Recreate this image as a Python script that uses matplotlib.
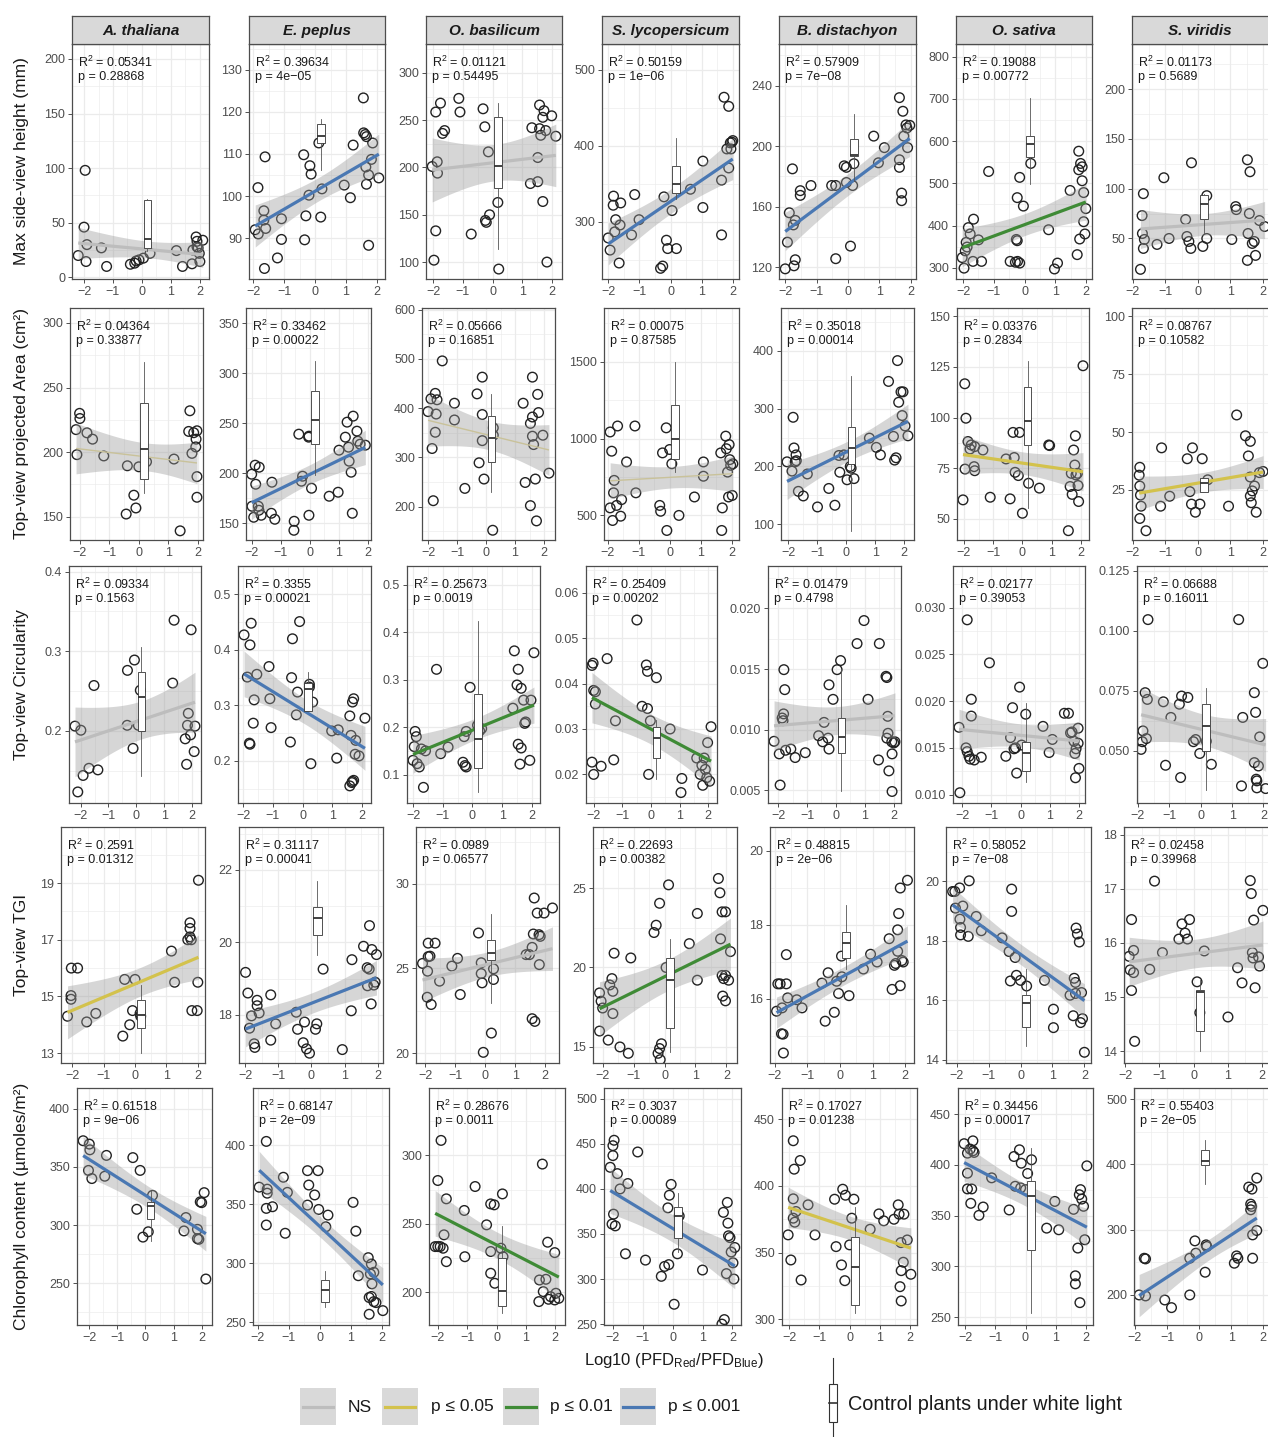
import numpy as np
import matplotlib.pyplot as plt
from matplotlib.patches import Rectangle
from matplotlib.lines import Line2D

plt.rcParams['font.family'] = ['Liberation Sans', 'DejaVu Sans']
plt.rcParams['mathtext.fontset'] = 'custom'
plt.rcParams['mathtext.rm'] = 'Liberation Sans'
plt.rcParams['mathtext.it'] = 'Liberation Sans:italic'
plt.rcParams['mathtext.bf'] = 'Liberation Sans:bold'

species = ['A. thaliana', 'E. peplus', 'O. basilicum', 'S. lycopersicum',
           'B. distachyon', 'O. sativa', 'S. viridis']
trait_labels = ['Max side-view height (mm)', 'Top-view projected Area (cm²)',
                'Top-view Circularity', 'Top-view TGI',
                'Chlorophyll content (µmoles/m²)']

# ---------------- max side-view height ----------------
hgt_ath_x = [-2.2, -1.96, -2.0, -1.9, -1.93, -1.4, -1.22, -0.4, -0.25, -0.2, -0.1, 0.05, 0.28, 1.19, 1.4, 1.73, 1.76, 1.87, 1.9, 1.94, 1.98, 2.0, 2.1, 1.9]
hgt_ath_y = [20, 98, 46, 30, 14.5, 27, 10, 12, 13, 15, 16, 17.6, 22, 24.5, 10, 12.4, 25, 37, 33, 27, 22, 14.5, 34, 28]
hgt_pep_x = [-1.94, -1.84, -1.85, -1.62, -1.66, -1.66, -1.6, -1.64, -1.22, -1.09, -1.09, -0.37, -0.17, -0.13, -0.3, -0.34, -0.2, 0.22, 0.18, 0.12, 0.94, 1.14, 1.23, 1.56, 1.57, 1.62, 1.66, 1.64, 1.66, 1.73, 1.86, 1.82, 1.73, 2.06]
hgt_pep_y = [92, 91, 102, 109.3, 96.5, 94.3, 92.3, 82.8, 85.3, 89.7, 94.6, 109.8, 107.2, 105.2, 95.3, 89.6, 100.2, 101.7, 95, 112.6, 102.6, 99.6, 112.1, 123.3, 115, 114.6, 114.1, 106.9, 102.8, 88.3, 112.6, 108.7, 105, 104.3]
hgt_bas_x = [-1.92, -1.76, -1.69, -1.62, -1.14, -1.1, -2.04, -1.87, -1.86, -1.92, -1.98, -0.72, -0.32, -0.26, -0.14, -0.24, -0.21, -0.1, 0.18, 0.21, 1.33, 1.28, 1.53, 1.59, 1.74, 1.7, 2.0, 1.59, 1.8, 1.63, 1.53, 1.7, 1.84, 2.14]
hgt_bas_y = [258.6, 268, 236, 239, 273, 258.6, 201, 206, 194, 133, 102, 129.6, 262, 243, 216.5, 144, 142, 150, 163, 92.6, 242, 183, 185, 266, 260, 253, 254.6, 241, 239, 234, 210.5, 164, 100, 233]
hgt_lyc_x = [-2.0, -1.94, -1.83, -1.84, -1.79, -1.76, -1.65, -1.6, -1.62, -1.15, -1.01, -1.25, -0.32, -0.25, -0.13, -0.09, -0.21, 0.05, 0.19, 0.64, 1.04, 1.04, 1.64, 1.72, 1.87, 1.64, 1.81, 1.92, 1.97, 1.94, 1.87, 2.0]
hgt_lyc_y = [279, 263, 334, 322, 287, 303, 246, 325, 296, 336, 303, 283, 239, 242, 276, 265, 333, 315, 265, 343, 380, 319, 283, 464, 452, 355, 396, 404, 405, 396, 371, 407]
hgt_bdi_x = [-2.0, -1.93, -1.87, -1.77, -1.74, -1.68, -1.72, -1.68, -1.52, -1.52, -1.18, -0.52, -0.39, -0.39, -0.12, -0.05, -0.05, 0.08, 0.15, 0.19, 0.82, 0.97, 1.16, 1.64, 1.75, 1.64, 1.64, 1.71, 1.71, 1.85, 1.88, 1.97, 1.78, 1.9]
hgt_bdi_y = [119, 136.6, 156, 185, 148, 151, 121, 125, 170.6, 167.5, 174, 174, 174, 125.7, 187, 186, 176, 134, 174, 188.4, 206.6, 189, 199, 232, 223, 191, 186, 169, 164, 214, 212, 213.7, 206.6, 199]
hgt_osa_x = [-2.03, -1.97, -1.93, -1.87, -1.9, -1.83, -1.77, -1.66, -1.5, -1.4, -1.68, -1.17, -0.47, -0.3, -0.23, -0.16, -0.27, -0.24, -0.24, -0.16, -0.04, 0.2, 0.78, 0.97, 1.07, 1.48, 1.71, 1.76, 1.76, 1.82, 1.87, 1.87, 1.79, 1.92, 1.92, 1.96, 1.99]
hgt_osa_y = [324, 299, 340, 349, 360, 395, 380, 415, 366, 315, 315, 528, 315, 313, 315, 311, 367, 364, 466, 514, 446, 547, 390, 297, 311, 483, 331, 532, 576, 547, 539, 506, 368, 478, 409, 380, 440]
hgt_svi_x = [-1.77, -1.68, -1.72, -1.71, -1.65, -1.68, -1.26, -1.05, -0.89, -0.38, -0.34, -0.28, -0.22, -0.2, 0.15, 0.27, 0.27, 1.04, 1.16, 1.18, 1.52, 1.6, 1.54, 1.58, 1.67, 1.73, 1.77, 1.52, 1.89, 2.05]
hgt_svi_y = [19, 95, 73, 55, 49, 40, 44, 111, 50, 69, 52, 47, 40, 126, 42, 93, 50, 49, 82, 79, 129, 117, 55, 75, 45, 47, 33, 28, 68, 62]
# control boxes: whisker low, q1, median, q3, whisker high
hgt_box = [[24, 27, 35, 71, 72], [106.1, 112.5, 114.3, 117, 118.2], [113.7, 178, 202, 253.5, 268],
           [330, 338, 350, 373, 410], [177, 193.4, 194.3, 204.8, 221], [499, 562, 594, 612, 702],
           [55, 70, 85, 94, 95]]
hgt_r2 = [0.05341, 0.39634, 0.01121, 0.50159, 0.57909, 0.19088, 0.01173]
hgt_p = [0.28868, 4e-05, 0.54495, 1e-06, 7e-08, 0.00772, 0.5689]
hgt_sig = ['ns', 'p001', 'ns', 'p001', 'p001', 'p01', 'ns']

# ---------------- top-view projected area ----------------
area_ath_x = [-2.13, -2.01, -2.0, -2.1, -1.76, -1.57, -1.19, -0.39, -0.17, -0.1, -0.43, 0.0, 0.26, 1.19, 1.4, 1.73, 1.69, 1.8, 1.86, 1.93, 1.97, 1.94, 1.97, 1.97]
area_ath_y = [217.4, 230, 226, 198, 214.9, 210, 197, 189.4, 166.6, 156.7, 152, 188.6, 192.5, 194.6, 139, 232, 216, 199, 215, 204, 216.5, 210, 181, 165]
area_pep_x = [-2.01, -2.0, -1.94, -1.89, -1.87, -1.75, -1.78, -1.76, -1.68, -1.31, -1.33, -1.21, -0.54, -0.55, -0.38, -0.29, -0.25, -0.03, -0.04, -0.03, 0.06, 0.67, 0.98, 1.01, 1.23, 1.29, 1.5, 1.34, 1.36, 1.43, 1.47, 1.63, 1.74, 1.66, 1.92]
area_pep_y = [199, 167, 156, 208, 189, 206, 167, 163, 158, 191, 160, 154, 152, 143, 239, 192, 197, 237, 236, 158, 185, 177, 181, 223, 236, 251, 257, 226, 212, 201, 160, 242, 229, 232, 228]
area_bas_x = [-2.0, -1.9, -1.75, -1.69, -1.72, -1.75, -1.86, -1.82, -1.51, -1.09, -1.09, -0.73, -0.31, -0.13, -0.13, -0.13, -0.24, -0.07, 0.25, 0.25, 0.23, 1.28, 1.35, 1.53, 1.6, 1.6, 1.6, 1.7, 1.53, 1.74, 1.78, 1.81, 1.64, 1.96, 2.17]
area_bas_y = [393, 419, 430, 417, 388, 351, 318, 212, 496, 410, 376, 237, 429, 463, 387, 334, 289, 256, 360, 345, 152, 410, 249, 369, 463, 382, 343, 256, 202, 171, 428, 391, 326, 345, 268]
area_lyc_x = [-1.92, -1.87, -1.79, -1.92, -1.84, -1.81, -1.71, -1.68, -1.58, -1.55, -1.39, -1.12, -1.09, -0.32, -0.29, -0.09, -0.23, -0.11, 0.0, 0.07, 0.3, 0.8, 1.09, 1.09, 1.68, 1.7, 1.65, 1.81, 1.83, 1.87, 1.9, 1.92, 1.94, 1.97, 2.04, 2.02]
area_lyc_y = [1043, 918, 728, 549, 467, 647, 565, 1082, 495, 603, 848, 1082, 647, 565, 527, 402, 907, 1070, 929, 836, 500, 620, 848, 755, 402, 549, 907, 1016, 934, 782, 620, 961, 863, 826, 836, 630]
area_bdi_x = [-2.04, -1.87, -1.83, -1.8, -1.73, -1.72, -1.76, -1.65, -1.48, -1.34, -0.99, -0.6, -0.39, -0.25, -0.08, -0.22, 0.03, 0.14, 0.17, 0.27, 0.8, 1.04, 1.18, 1.46, 1.77, 1.81, 1.89, 1.96, 1.93, 1.63, 1.67, 1.72, 2.03, 2.13]
area_bdi_y = [208, 192, 285, 232, 220, 210, 208, 157, 149, 187, 130, 162, 133, 219, 220, 190, 177, 200, 197, 179, 249, 233, 220, 347, 383, 311, 329, 329, 288, 252, 211, 215, 270, 253]
area_osa_x = [-1.97, -1.93, -1.86, -1.79, -1.75, -1.63, -1.65, -1.63, -1.96, -2.03, -1.35, -1.1, -0.56, -0.42, -0.32, -0.28, -0.25, -0.14, -0.1, 0.0, 0.21, 0.58, 0.9, 0.93, 1.57, 1.63, 1.67, 1.7, 1.75, 1.81, 1.79, 1.83, 1.9, 1.92, 1.88, 2.07]
area_osa_y = [116.7, 99.7, 88.2, 84.5, 86.5, 85.7, 75.8, 73.8, 74.6, 59.4, 84, 60.7, 79.6, 59.9, 92.7, 80.3, 73, 71.4, 92.7, 52.8, 67.6, 65.2, 86.5, 86.2, 44.2, 66, 72.5, 62.1, 84, 91, 76.6, 71.7, 66.5, 58.6, 72.5, 125.6]
area_svi_x = [-1.79, -1.81, -1.79, -1.77, -1.75, -1.79, -1.6, -1.15, -1.12, -0.87, -0.33, -0.25, -0.2, -0.08, -0.17, 0.13, 0.06, 0.3, 0.94, 1.19, 1.46, 1.61, 1.55, 1.61, 1.61, 1.67, 1.74, 1.64, 1.79, 1.89, 2.0]
area_svi_y = [34.8, 31.4, 26.7, 22.8, 18, 12.7, 7.4, 18, 43.2, 22.3, 38.5, 24.3, 18.9, 15.4, 43.2, 38.5, 18.9, 29.4, 18, 57.4, 48.4, 46, 39.7, 30.6, 22.4, 24.6, 26.7, 19.5, 15.4, 32.5, 33]
area_box = [[168, 179.5, 202.6, 238, 270], [198, 229, 253, 282, 312], [230, 291, 339, 385, 429],
            [782, 864, 1000, 1218, 1500], [89, 205, 232, 268, 357], [55.3, 86.5, 98.5, 115.3, 127.8],
            [24, 24, 27.9, 30.3, 30.3]]
area_r2 = [0.04364, 0.33462, 0.05666, 0.00075, 0.35018, 0.03376, 0.08767]
area_p = [0.33877, 0.00022, 0.16851, 0.87585, 0.00014, 0.2834, 0.10582]
area_sig = ['ns_thin', 'p001', 'ns_thin', 'ns_thin', 'p001', 'p05', 'p05']

# ---------------- top-view circularity ----------------
circ_ath_x = [-2.2, -1.99, -2.1, -1.91, -1.7, -1.38, -1.52, -0.32, -0.07, -0.33, -0.12, 0.14, 0.07, 1.3, 1.35, 1.96, 1.75, 1.8, 1.86, 1.83, 1.94, 2.1, 2.07]
circ_ath_y = [0.206, 0.2008, 0.1233, 0.144, 0.153, 0.151, 0.257, 0.276, 0.289, 0.207, 0.178, 0.251, 0.207, 0.26, 0.339, 0.327, 0.19, 0.158, 0.222, 0.207, 0.195, 0.206, 0.174]
circ_pep_x = [-1.97, -1.77, -1.73, -1.86, -1.54, -1.63, -1.66, -1.79, -1.77, -1.13, -1.1, -1.06, -0.34, -0.37, -0.41, -0.1, -0.17, -0.21, 0.23, 0.23, 0.34, 0.28, 0.98, 1.2, 1.15, 1.59, 1.63, 1.72, 1.68, 1.77, 1.9, 1.79, 2.1, 1.59, 1.68, 1.72, 1.66]
circ_pep_y = [0.427, 0.409, 0.448, 0.351, 0.356, 0.31, 0.268, 0.232, 0.23, 0.37, 0.312, 0.26, 0.42, 0.35, 0.234, 0.451, 0.324, 0.283, 0.338, 0.333, 0.306, 0.195, 0.254, 0.256, 0.205, 0.281, 0.246, 0.312, 0.306, 0.212, 0.209, 0.237, 0.277, 0.155, 0.163, 0.165, 0.161]
circ_bas_x = [-1.93, -1.89, -1.96, -2.0, -1.86, -1.79, -1.72, -1.58, -1.65, -1.21, -1.07, -0.82, -0.32, -0.25, -0.21, -0.28, -0.21, -0.08, 0.17, 0.24, 0.31, 1.41, 1.36, 1.54, 1.5, 1.64, 1.72, 1.54, 1.64, 1.6, 1.79, 1.76, 1.97, 1.93, 2.07]
circ_bas_y = [0.191, 0.18, 0.159, 0.13, 0.123, 0.116, 0.154, 0.15, 0.073, 0.322, 0.144, 0.158, 0.126, 0.119, 0.116, 0.18, 0.191, 0.284, 0.204, 0.192, 0.197, 0.361, 0.24, 0.322, 0.289, 0.282, 0.257, 0.164, 0.156, 0.122, 0.211, 0.208, 0.257, 0.13, 0.357]
circ_lyc_x = [-2.06, -2.02, -2.0, -1.94, -1.94, -2.06, -2.0, -1.74, -1.53, -1.3, -1.24, -0.49, -0.31, -0.12, -0.16, -0.12, 0.19, -0.02, -0.08, 0.67, 1.08, 1.05, 1.6, 1.72, 1.78, 1.86, 1.9, 1.95, 2.05, 2.1, 1.81, 1.98]
circ_lyc_y = [0.044, 0.0445, 0.0385, 0.0382, 0.0355, 0.0227, 0.02, 0.0218, 0.0455, 0.0232, 0.0318, 0.054, 0.035, 0.0345, 0.0441, 0.0427, 0.0413, 0.0318, 0.02, 0.03, 0.0191, 0.016, 0.0236, 0.02, 0.022, 0.0236, 0.0211, 0.0193, 0.0185, 0.0305, 0.0176, 0.027]
circ_bdi_x = [-2.14, -1.96, -1.93, -1.86, -1.83, -1.81, -1.8, -1.77, -1.74, -1.56, -1.41, -1.06, -0.6, -0.46, -0.41, -0.24, -0.27, -0.24, -0.1, 0.04, 0.16, 0.73, 0.97, 1.11, 1.5, 1.47, 1.73, 1.76, 1.79, 1.8, 1.76, 1.83, 1.94, 2.0, 1.93, 1.94, 2.04]
circ_bdi_y = [0.00904, 0.008, 0.00543, 0.01096, 0.01074, 0.0113, 0.01495, 0.0133, 0.0083, 0.0084, 0.0077, 0.0081, 0.0095, 0.009, 0.0106, 0.0084, 0.0093, 0.0137, 0.0125, 0.01495, 0.0157, 0.0171, 0.019, 0.0125, 0.0171, 0.0075, 0.0144, 0.0143, 0.0111, 0.0097, 0.0093, 0.0066, 0.008, 0.0089, 0.009, 0.0049, 0.009]
circ_osa_x = [-2.08, -2.11, -1.83, -1.69, -1.69, -1.87, -1.83, -1.77, -1.73, -1.59, -1.35, -1.07, -0.51, -0.35, -0.28, -0.23, -0.18, -0.14, -0.04, 0.03, 0.17, 0.76, 1.08, 0.97, 1.49, 1.63, 1.7, 1.75, 1.82, 1.85, 1.89, 1.96, 1.96, 1.99, 1.87]
circ_osa_y = [0.0102, 0.0172, 0.0287, 0.0202, 0.0184, 0.015, 0.0146, 0.0141, 0.0138, 0.0137, 0.014, 0.0241, 0.0141, 0.0161, 0.0193, 0.0149, 0.015, 0.0123, 0.0215, 0.0153, 0.0186, 0.0173, 0.0159, 0.0145, 0.0187, 0.0187, 0.0166, 0.0167, 0.0157, 0.0144, 0.0149, 0.0171, 0.0155, 0.0128, 0.0118]
circ_svi_x = [-1.9, -1.84, -1.86, -1.73, -1.77, -1.7, -1.68, -1.19, -0.95, -1.12, -0.64, -0.68, -0.61, -0.41, -0.23, -0.16, -0.03, 0.34, 0.18, 1.21, 1.34, 1.3, 1.71, 1.75, 1.98, 1.71, 1.84, 1.88, 1.77, 1.79, 1.79, 2.07]
circ_svi_y = [0.0506, 0.0583, 0.0538, 0.0551, 0.0742, 0.0714, 0.1046, 0.0704, 0.0639, 0.044, 0.0389, 0.0694, 0.0728, 0.0722, 0.0538, 0.0547, 0.0489, 0.0444, 0.054, 0.1046, 0.0639, 0.0354, 0.0742, 0.066, 0.0864, 0.0451, 0.0437, 0.0558, 0.0382, 0.0375, 0.0346, 0.0343]
circ_box = [[0.143, 0.2, 0.243, 0.274, 0.305], [0.29, 0.29, 0.33, 0.341, 0.36], [0.063, 0.113, 0.175, 0.271, 0.424],
            [0.0189, 0.0236, 0.028, 0.0305, 0.032], [0.0049, 0.0081, 0.0094, 0.011, 0.015],
            [0.0114, 0.0125, 0.0145, 0.0156, 0.0198], [0.0336, 0.05, 0.0603, 0.0693, 0.0762]]
circ_r2 = [0.09334, 0.3355, 0.25673, 0.25409, 0.01479, 0.02177, 0.06688]
circ_p = [0.1563, 0.00021, 0.0019, 0.00202, 0.4798, 0.39053, 0.16011]
circ_sig = ['ns', 'p001', 'p01', 'p01', 'ns', 'ns', 'ns']

# ---------------- top-view TGI ----------------
tgi_ath_x = [-2.15, -2.04, -2.04, -2.03, -1.83, -1.54, -1.25, -0.33, -0.39, -0.17, -0.08, 0.0, 0.16, 0.18, 1.16, 1.26, 1.75, 1.75, 1.75, 1.68, 1.79, 1.81, 1.98, 2.02, 2.0]
tgi_ath_y = [14.3, 15.03, 14.9, 16.0, 16.0, 14.1, 14.4, 15.6, 13.6, 14.0, 14.5, 15.6, 14.4, 14.3, 16.6, 15.5, 17.6, 17.4, 17.1, 17.0, 17.0, 14.5, 14.5, 19.1, 15.5]
tgi_pep_x = [-1.99, -1.92, -1.87, -1.81, -1.73, -1.71, -1.64, -1.64, -1.58, -1.23, -1.23, -1.08, -0.46, -0.42, -0.21, -0.25, -0.15, -0.06, 0.16, 0.12, 0.35, 0.93, 1.22, 1.2, 1.57, 1.68, 1.69, 1.74, 1.75, 1.82, 1.8, 1.88, 1.96, 1.92]
tgi_pep_y = [19.17, 18.6, 17.63, 17.97, 17.2, 17.1, 18.4, 18.25, 18.05, 18.55, 17.3, 17.75, 18.07, 17.6, 17.8, 17.23, 17.06, 16.94, 17.75, 17.6, 19.26, 17.04, 19.52, 18.11, 19.89, 19.3, 18.8, 19.26, 20.46, 19.8, 18.3, 18.82, 19.66, 18.9]
tgi_bas_x = [-2.1, -1.93, -1.94, -1.81, -1.91, -1.85, -1.91, -1.68, -1.53, -1.12, -0.93, -0.84, -0.23, -0.14, -0.14, -0.11, -0.07, 0.2, 0.27, 0.27, 1.36, 1.47, 1.56, 1.63, 1.6, 1.56, 1.65, 1.73, 1.79, 1.83, 1.8, 1.96, 2.24]
tgi_bas_y = [25.3, 24.84, 23.3, 22.87, 25.7, 25.73, 26.5, 26.5, 24.25, 25.14, 25.6, 23.46, 27.1, 25.34, 24.7, 24.15, 20.04, 21.18, 24.98, 24.35, 25.82, 25.82, 26.25, 29.17, 27.04, 22.03, 21.87, 28.28, 27.0, 26.9, 25.23, 28.28, 28.58]
tgi_lyc_x = [-2.1, -2.05, -2.0, -2.1, -1.82, -1.77, -1.7, -1.67, -1.67, -1.63, -1.44, -1.17, -1.09, -0.21, -0.16, -0.1, -0.14, -0.34, -0.27, -0.16, 0.13, 0.05, 0.8, 1.06, 1.06, 1.74, 1.79, 1.86, 1.97, 1.81, 1.86, 1.91, 1.97, 1.97, 1.88, 2.13, 2.07]
tgi_lyc_y = [18.4, 17.88, 17.45, 16.0, 15.43, 18.9, 19.3, 18.5, 17.1, 20.9, 15.0, 14.6, 20.6, 14.6, 14.9, 15.2, 14.2, 22.2, 22.66, 24.04, 25.2, 20.0, 21.5, 23.4, 19.2, 25.6, 24.7, 23.5, 23.5, 21.8, 19.5, 19.3, 19.5, 17.9, 18.2, 21.0, 19.2]
tgi_bdi_x = [-1.94, -1.9, -1.83, -1.79, -1.74, -1.73, -1.77, -1.64, -1.64, -1.6, -1.32, -1.16, -0.55, -0.36, -0.45, -0.17, -0.1, -0.04, 0.06, 0.05, 0.28, 0.72, 0.94, 1.14, 1.51, 1.6, 1.71, 1.67, 1.77, 1.8, 1.77, 1.85, 1.85, 1.9, 1.94, 2.07]
tgi_bdi_y = [15.66, 16.4, 16.4, 15.05, 15.04, 14.53, 15.75, 16.4, 17.19, 16.02, 15.97, 15.75, 16.42, 16.7, 15.39, 15.63, 16.47, 16.14, 16.59, 17.15, 16.08, 16.8, 17.2, 16.99, 17.62, 16.25, 16.95, 16.9, 17.28, 18.3, 17.86, 18.99, 16.35, 17.03, 16.99, 19.2]
tgi_osa_x = [-2.13, -2.06, -2.04, -1.91, -1.9, -1.88, -1.88, -1.81, -1.64, -1.61, -1.39, -1.23, -0.58, -0.36, -0.17, -0.28, -0.28, -0.32, -0.13, 0.0, 0.19, 0.75, 1.03, 1.03, 1.55, 1.68, 1.72, 1.74, 1.78, 1.84, 1.65, 1.72, 1.88, 1.94, 2.0, 1.91]
tgi_osa_y = [19.66, 19.66, 19.1, 19.78, 18.73, 18.45, 18.2, 19.17, 18.15, 20.02, 18.82, 18.34, 18.1, 17.64, 17.44, 19.74, 18.99, 16.65, 16.84, 16.67, 16.48, 16.67, 15.7, 15.08, 16.17, 16.74, 16.6, 18.43, 18.23, 17.96, 15.48, 16.23, 15.25, 15.38, 14.25, 16.26]
tgi_svi_x = [-1.88, -1.85, -1.75, -1.81, -1.81, -1.75, -1.72, -1.28, -1.14, -0.91, -0.43, -0.34, -0.25, -0.18, -0.12, 0.1, 0.18, 0.31, 1.0, 1.28, 1.41, 1.65, 1.68, 1.75, 1.71, 1.73, 1.79, 1.89, 1.92, 2.02]
tgi_svi_y = [15.75, 15.5, 15.45, 15.12, 16.43, 15.86, 14.18, 15.51, 17.14, 15.82, 16.07, 16.35, 16.18, 16.07, 16.43, 15.28, 14.71, 15.85, 14.63, 15.54, 15.26, 17.15, 16.91, 16.42, 15.82, 15.72, 15.17, 15.74, 15.57, 16.6]
tgi_box = [[13.0, 13.9, 14.35, 14.86, 15.4], [19.66, 20.21, 20.67, 20.97, 21.7], [22.97, 25.5, 25.93, 26.67, 28.24],
           [14.7, 16.2, 19.2, 20.6, 21.8], [16.8, 17.1, 17.5, 17.79, 18.54], [14.45, 15.1, 15.9, 16.18, 17.04],
           [14.0, 14.38, 15.09, 15.12, 15.31]]
tgi_r2 = [0.2591, 0.31117, 0.0989, 0.22693, 0.48815, 0.58052, 0.02458]
tgi_p = [0.01312, 0.00041, 0.06577, 0.00382, 2e-06, 7e-08, 0.39968]
tgi_sig = ['p05', 'p001', 'ns', 'p01', 'p001', 'p001', 'ns']

# ---------------- chlorophyll content ----------------
chl_ath_x = [-2.22, -2.0, -1.98, -2.03, -1.91, -1.39, -1.45, -0.45, -0.19, -0.31, -0.09, 0.1, 0.25, 1.44, 1.37, 1.85, 1.9, 1.85, 1.95, 2.0, 2.09, 2.15]
chl_ath_y = [372.5, 369.6, 364.7, 347, 340, 359.9, 342, 358, 347, 313.6, 289.7, 294.3, 325.6, 306.5, 295, 296.4, 287.8, 288.4, 320, 319.3, 327.9, 253.7]
chl_pep_x = [-1.95, -1.72, -1.69, -1.69, -1.72, -1.52, -1.72, -1.17, -1.04, -1.11, -0.39, -0.05, -0.35, -0.16, -0.39, -0.03, 0.27, 0.2, 1.08, 1.17, 1.25, 1.57, 1.67, 1.64, 1.75, 1.6, 1.67, 1.69, 1.75, 1.82, 1.6, 2.04]
chl_pep_y = [364.6, 403.4, 362.9, 359.5, 346.6, 348, 332.5, 373, 360.2, 325.5, 378.6, 378.6, 366.4, 358, 349.4, 345.7, 340.9, 331, 351.7, 327.3, 289.5, 304.8, 299.4, 291, 292.4, 271, 271.9, 282.6, 267.5, 266.7, 256.8, 259.9]
chl_bas_x = [-2.0, -2.09, -2.0, -1.92, -1.82, -1.89, -1.71, -1.79, -1.71, -1.1, -1.08, -0.73, -0.34, -0.2, -0.08, -0.2, -0.2, -0.06, 0.2, 0.15, 0.22, 1.56, 1.46, 1.68, 1.74, 1.59, 1.77, 1.98, 2.02, 1.98, 2.12, 1.44, 1.84]
chl_bas_y = [281.7, 233.4, 233.4, 233.4, 232.2, 311, 268.3, 242, 222.4, 259.8, 226, 277.3, 249.3, 264.6, 263.9, 229.8, 213.9, 206.6, 271.9, 232.2, 226, 293.7, 209, 209.5, 236.6, 200.5, 194.9, 229, 199.3, 194.4, 195.6, 193.2, 196.8]
chl_lyc_x = [-2.09, -2.0, -1.96, -2.0, -1.85, -1.76, -1.98, -2.03, -1.92, -1.58, -1.5, -1.17, -0.91, -0.38, -0.27, -0.13, -0.16, -0.11, -0.05, 0.05, 0.16, 0.22, 1.0, 1.65, 1.73, 1.7, 1.83, 1.85, 1.87, 1.92, 1.96, 1.8, 2.02, 2.05, 2.08]
chl_lyc_y = [424, 437, 454, 448, 417, 400, 372, 361, 359, 328, 406, 441, 321, 303, 314, 316, 379, 393, 405, 272, 328, 370, 310, 250, 255, 374, 385, 362, 348, 346, 330, 306, 318, 300, 335]
chl_bdi_x = [-2.04, -1.95, -1.87, -1.84, -1.64, -1.87, -1.87, -1.82, -1.78, -1.61, -1.38, -1.15, -0.5, -0.45, -0.27, -0.23, -0.14, -0.16, 0.0, 0.07, 0.14, 0.68, 0.97, 1.13, 1.47, 1.61, 1.64, 1.7, 1.8, 1.91, 1.78, 1.71, 1.67, 1.71, 2.03]
chl_bdi_y = [363.3, 344.5, 433.8, 412.5, 419, 390.3, 375.8, 372.8, 380.8, 329.5, 385.8, 363.3, 390, 354.5, 340.8, 397.5, 393, 329, 355.8, 375.8, 390, 367.5, 379, 373.8, 375, 385.8, 378.8, 357.5, 378.8, 359.5, 342.8, 336.5, 324.5, 313.8, 333.8]
chl_osa_x = [-2.03, -1.92, -1.83, -1.74, -1.74, -1.7, -1.92, -1.92, -1.78, -1.81, -1.54, -1.4, -1.12, -0.54, -0.38, -0.2, -0.14, -0.34, -0.16, 0.0, 0.07, 0.2, 0.7, 0.97, 1.1, 1.59, 1.65, 1.65, 1.73, 1.78, 1.82, 1.86, 1.92, 1.96, 2.03, 1.8]
chl_osa_y = [420.8, 411.5, 415.5, 423.6, 413.8, 412.2, 391.8, 376.3, 376.3, 362.1, 350.3, 358.5, 387.2, 355.6, 408.2, 414.8, 401.6, 378.9, 377.3, 375.6, 391.5, 405, 337.7, 364, 336.1, 356.2, 290.8, 282.9, 318.1, 370.6, 375.6, 366.3, 359.2, 326.3, 399, 264.4]
chl_svi_x = [-1.87, -1.71, -1.67, -1.67, -1.07, -0.86, -0.29, -0.29, -0.13, -0.1, 0.22, 0.24, 0.19, 1.1, 1.21, 1.17, 1.55, 1.65, 1.61, 1.64, 1.61, 1.8, 1.67, 1.67, 1.8]
chl_svi_y = [200, 256.2, 255.2, 198.5, 192.3, 180.6, 200, 256.2, 282.8, 263.9, 276.7, 274.2, 234.8, 248.6, 256.2, 259.8, 365.2, 362.1, 339.1, 335.5, 330.4, 379, 256.2, 292, 298.7]
chl_box = [[286.4, 305.3, 316.5, 320.2, 330], [262.7, 267.5, 277.8, 285.9, 293.8], [184.6, 190, 201, 224.9, 248.8],
           [330, 345, 370, 380, 396], [305, 310.8, 339.5, 361.5, 384.5], [254, 316.4, 369, 383.7, 416.5],
           [370.5, 398.5, 405.2, 422, 437.4]]
chl_r2 = [0.61518, 0.68147, 0.28676, 0.3037, 0.17027, 0.34456, 0.55403]
chl_p = [9e-06, 2e-09, 0.0011, 0.00089, 0.01238, 0.00017, 2e-05]
chl_sig = ['p001', 'p001', 'p01', 'p001', 'p05', 'p001', 'p001']

rows = [
    ([(hgt_ath_x, hgt_ath_y), (hgt_pep_x, hgt_pep_y), (hgt_bas_x, hgt_bas_y), (hgt_lyc_x, hgt_lyc_y),
      (hgt_bdi_x, hgt_bdi_y), (hgt_osa_x, hgt_osa_y), (hgt_svi_x, hgt_svi_y)],
     hgt_box, hgt_r2, hgt_p, hgt_sig),
    ([(area_ath_x, area_ath_y), (area_pep_x, area_pep_y), (area_bas_x, area_bas_y), (area_lyc_x, area_lyc_y),
      (area_bdi_x, area_bdi_y), (area_osa_x, area_osa_y), (area_svi_x, area_svi_y)],
     area_box, area_r2, area_p, area_sig),
    ([(circ_ath_x, circ_ath_y), (circ_pep_x, circ_pep_y), (circ_bas_x, circ_bas_y), (circ_lyc_x, circ_lyc_y),
      (circ_bdi_x, circ_bdi_y), (circ_osa_x, circ_osa_y), (circ_svi_x, circ_svi_y)],
     circ_box, circ_r2, circ_p, circ_sig),
    ([(tgi_ath_x, tgi_ath_y), (tgi_pep_x, tgi_pep_y), (tgi_bas_x, tgi_bas_y), (tgi_lyc_x, tgi_lyc_y),
      (tgi_bdi_x, tgi_bdi_y), (tgi_osa_x, tgi_osa_y), (tgi_svi_x, tgi_svi_y)],
     tgi_box, tgi_r2, tgi_p, tgi_sig),
    ([(chl_ath_x, chl_ath_y), (chl_pep_x, chl_pep_y), (chl_bas_x, chl_bas_y), (chl_lyc_x, chl_lyc_y),
      (chl_bdi_x, chl_bdi_y), (chl_osa_x, chl_osa_y), (chl_svi_x, chl_svi_y)],
     chl_box, chl_r2, chl_p, chl_sig),
]

# y axis ranges and ticks per panel
ylims = [
    [(-1.5, 213.7), (80.3, 136.1), (82.1, 330.5), (225, 534), (112.3, 267.4), (273.3, 829.9), (9.3, 245.3)],
    [(131.9, 311.6), (133.3, 365), (132.2, 603.4), (340, 1850), (72.9, 473.9), (39.6, 154.1), (3.4, 103.6)],
    [(0.1094, 0.4071), (0.1242, 0.5511), (0.040, 0.540), (0.0137, 0.0659), (0.00395, 0.0235), (0.0091, 0.03446), (0.0283, 0.1269)],
    [(12.65, 20.98), (16.67, 23.18), (19.41, 33.37), (13.99, 28.84), (14.26, 20.64), (13.89, 21.83), (13.78, 18.14)],
    [(214.2, 417.8), (247.7, 448.7), (176.1, 349.3), (249, 512), (295.8, 473.3), (242.4, 475.6), (154, 516.9)],
]
yticks = [
    [[0, 50, 100, 150, 200], [90, 100, 110, 120, 130], [100, 150, 200, 250, 300], [300, 400, 500],
     [120, 160, 200, 240], [300, 400, 500, 600, 700, 800], [50, 100, 150, 200]],
    [[150, 200, 250, 300], [150, 200, 250, 300, 350], [200, 300, 400, 500, 600], [500, 1000, 1500],
     [100, 200, 300, 400], [50, 75, 100, 125, 150], [25, 50, 75, 100]],
    [[0.2, 0.3, 0.4], [0.2, 0.3, 0.4, 0.5], [0.1, 0.2, 0.3, 0.4, 0.5], [0.02, 0.03, 0.04, 0.05, 0.06],
     [0.005, 0.010, 0.015, 0.020], [0.010, 0.015, 0.020, 0.025, 0.030], [0.050, 0.075, 0.100, 0.125]],
    [[13, 15, 17, 19], [18, 20, 22], [20, 25, 30], [15, 20, 25], [16, 18, 20], [14, 16, 18, 20], [14, 15, 16, 17, 18]],
    [[250, 300, 350, 400], [250, 300, 350, 400], [200, 250, 300], [250, 300, 350, 400, 450, 500],
     [300, 350, 400, 450], [250, 300, 350, 400, 450], [200, 300, 400, 500]],
]

# panel boxes in pixels
W, H = 1268, 1437
row_top = [44, 308, 566, 827, 1088]
row_bot = [279, 540, 803, 1063, 1325]
row_left = [[72, 249, 426, 602, 779, 956, 1132],
            [70, 246, 422, 604, 781, 957, 1132],
            [69, 238, 407, 586, 768, 953, 1137],
            [61, 239, 416, 593, 770, 946, 1124],
            [77, 253, 429, 604, 782, 958, 1134]]
row_right = [[209, 385, 562, 739, 916, 1092, 1276],
             [203, 371, 555, 739, 914, 1089, 1276],
             [201, 371, 540, 717, 901, 1085, 1276],
             [205, 383, 559, 737, 914, 1091, 1276],
             [212, 389, 565, 741, 917, 1093, 1276]]
# the rightmost column runs past the figure edge
last_xlim = (-2.03, 2.4)

line_col = {'ns': '#BDBDBD', 'ns_thin': '#C9C29A', 'p05': '#D3C24C', 'p01': '#3F8B36', 'p001': '#4A78B3'}
line_w = {'ns': 2.3, 'ns_thin': 1.0, 'p05': 2.3, 'p01': 2.3, 'p001': 2.3}
box_pos = 0.18
grid_col = '#EBEBEB'
edge_col = '#4D4D4D'


def px_axes(fig, l, t, r, b):
    return fig.add_axes([l / W, 1 - b / H, (r - l) / W, (b - t) / H])


def tick_text(ticks):
    dec = 0
    for v in ticks:
        s = ('%.6f' % v).rstrip('0').rstrip('.')
        if '.' in s:
            dec = max(dec, len(s.split('.')[1]))
    return ['%.*f' % (dec, v) for v in ticks]


def lm_band(x, y, xs):
    slope, icpt = np.polyfit(x, y, 1)
    n = len(x)
    res = y - (icpt + slope * x)
    s = np.sqrt(np.sum(res ** 2) / (n - 2))
    sxx = np.sum((x - x.mean()) ** 2)
    se = s * np.sqrt(1 / n + (xs - x.mean()) ** 2 / sxx)
    tq = 1.96 + 2.5 / (n - 2)
    fit = icpt + slope * xs
    return fit, fit - tq * se, fit + tq * se


def fmt_num(v):
    return str(v).replace('-', '\u2212')


fig = plt.figure(figsize=(W / 100, H / 100), dpi=100)

for r, (pts, boxes, r2s, ps, sigs) in enumerate(rows):
    for c in range(7):
        l, rr = row_left[r][c], row_right[r][c]
        t, b = row_top[r], row_bot[r]
        ax = px_axes(fig, l, t, rr, b)
        x = np.array(pts[c][0], dtype=float)
        y = np.array(pts[c][1], dtype=float)

        ax.scatter(x, y, s=48, facecolors='none', edgecolors='#222222', linewidths=1.0, zorder=2)

        xs = np.linspace(x.min(), x.max(), 80)
        fit, lo, hi = lm_band(x, y, xs)
        ax.fill_between(xs, lo, hi, color='#999999', alpha=0.4, lw=0, zorder=3)
        ax.plot(xs, fit, color=line_col[sigs[c]], lw=line_w[sigs[c]], zorder=4, solid_capstyle='butt')

        bs = boxes[c]
        ax.bxp([dict(whislo=bs[0], q1=bs[1], med=bs[2], q3=bs[3], whishi=bs[4])],
               positions=[box_pos], widths=0.25, showfliers=False, showcaps=False,
               patch_artist=True, manage_ticks=False, zorder=5,
               boxprops=dict(facecolor='white', edgecolor='#333333', lw=0.6),
               whiskerprops=dict(color='#555555', lw=0.6),
               medianprops=dict(color='#333333', lw=1.3))

        if c == 6:
            xlo, xhi = last_xlim
        else:
            span = x.max() - x.min()
            xlo, xhi = x.min() - 0.05 * span, x.max() + 0.05 * span
        yt = yticks[r][c]
        step = yt[1] - yt[0]
        ax.set_xticks([-2, -1, 0, 1, 2])
        ax.set_yticks(yt)
        ax.set_yticklabels(tick_text(yt))
        ax.set_xticks([-2.5, -1.5, -0.5, 0.5, 1.5, 2.5], minor=True)
        ax.set_yticks(np.arange(yt[0] - 1.5 * step, yt[-1] + 2 * step, step), minor=True)
        ax.set_ylim(*ylims[r][c])
        ax.set_xlim(xlo, xhi)
        ax.grid(True, which='major', color=grid_col, lw=0.9, zorder=0)
        ax.grid(True, which='minor', color=grid_col, lw=0.45, zorder=0)
        ax.set_axisbelow(True)
        ax.tick_params(which='major', length=3, width=0.6, color='#333333',
                       labelsize=9, labelcolor='#4D4D4D', pad=2)
        ax.tick_params(which='minor', length=0)
        for sp in ax.spines.values():
            sp.set_color(edge_col)
            sp.set_linewidth(0.9)

        ax.text(6 / (rr - l), 0.955, 'R$^{2}$ = ' + fmt_num(r2s[c]) + '\np = ' + fmt_num(ps[c]),
                transform=ax.transAxes, ha='left', va='top', fontsize=9,
                color='#1A1A1A', linespacing=1.15, zorder=6)

        if r == 0:
            sax = px_axes(fig, l, 16, rr, 44)
            sax.set_facecolor('#D9D9D9')
            sax.set_xticks([])
            sax.set_yticks([])
            for sp in sax.spines.values():
                sp.set_color(edge_col)
                sp.set_linewidth(0.9)
            sx = 0.5 if c < 6 else (1200 - l) / (rr - l)
            sax.text(sx, 0.47, species[c], transform=sax.transAxes, ha='center', va='center',
                     fontsize=11, fontstyle='italic', fontweight='bold', color='#1A1A1A')

    fig.text(22 / W, 1 - (row_top[r] + row_bot[r]) / 2 / H, trait_labels[r], rotation=90,
             ha='center', va='center', fontsize=12.5, color='#1A1A1A')

fig.text(674 / W, 1 - 1360 / H,
         r'Log10 (PFD$_{\mathregular{Red}}$/PFD$_{\mathregular{Blue}}$)',
         ha='center', va='center', fontsize=12, color='#1A1A1A')

# legend drawn in pixel space
lax = fig.add_axes([0, 0, 1, 1], zorder=10)
lax.set_xlim(0, W)
lax.set_ylim(H, 0)
lax.axis('off')
legend_keys = [('ns', 'NS', 300, 348), ('p05', 'p ≤ 0.05', 382, 431),
               ('p01', 'p ≤ 0.01', 503, 550), ('p001', 'p ≤ 0.001', 620, 668)]
for key, label, kx, tx in legend_keys:
    lax.add_patch(Rectangle((kx, 1388), 36, 37, facecolor='#D9D9D9', edgecolor='none'))
    lax.add_line(Line2D([kx + 3, kx + 33], [1407, 1407], color=line_col[key], lw=2.3))
    lax.text(tx, 1407, label, ha='left', va='center', fontsize=12.5, color='#1A1A1A')
lax.add_line(Line2D([833, 833], [1358, 1437], color='#333333', lw=0.8))
lax.add_patch(Rectangle((829, 1384), 8, 38, facecolor='white', edgecolor='#333333', lw=0.8, zorder=3))
lax.add_line(Line2D([829, 837], [1403, 1403], color='#333333', lw=1.2, zorder=4))
lax.text(848, 1404, 'Control plants under white light', ha='left', va='center',
         fontsize=14.3, color='#1A1A1A')

fig.savefig('out.png', dpi=100, facecolor='white')
